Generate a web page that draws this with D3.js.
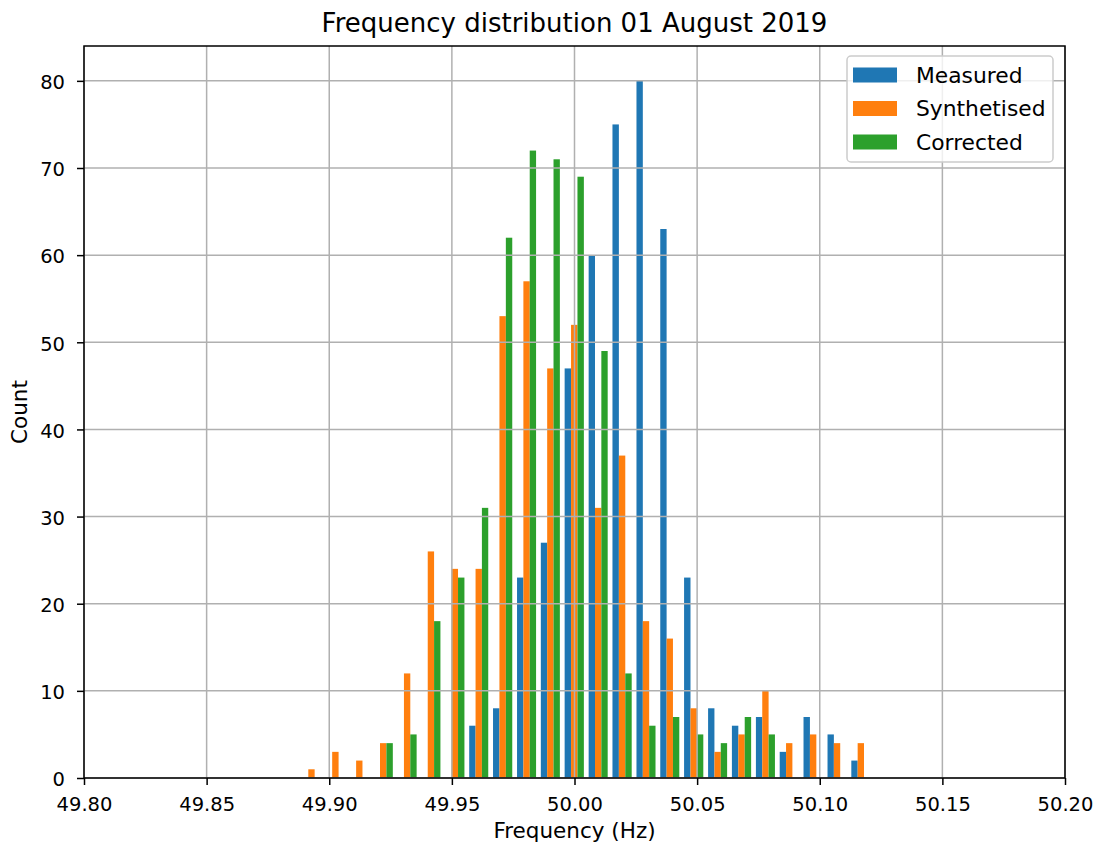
<!DOCTYPE html>
<html>
<head>
<meta charset="utf-8">
<script src="https://cdn.jsdelivr.net/npm/d3@7"></script>
<style>
  body { margin: 0; background: #fff; }
  text { font-family: "DejaVu Sans", sans-serif; fill: #000; }
</style>
</head>
<body>
<script>
// histogram bin edges (Hz)
var binEdges = [49.8879, 49.8976, 49.9074, 49.9171, 49.9269, 49.9366, 49.9463, 49.9561,
    49.9658, 49.9756, 49.9853, 49.9950, 50.0048, 50.0145, 50.0243, 50.0340, 50.0437,
    50.0535, 50.0632, 50.0730, 50.0827, 50.0924, 50.1022, 50.1119, 50.1216];

// counts per bin
var measured    = [0, 0, 0, 0, 0, 0, 0, 6, 8, 23, 27, 47, 60, 75, 80, 63, 23, 8, 6, 7, 3, 7, 5, 2];
var synthetised = [1, 3, 2, 4, 12, 26, 24, 24, 53, 57, 47, 52, 31, 37, 18, 16, 8, 3, 5, 10, 4, 5, 4, 4];
var corrected   = [0, 0, 0, 4, 5, 18, 23, 31, 62, 72, 71, 69, 49, 12, 6, 7, 5, 4, 7, 5, 0, 0, 0, 0];

var seriesNames = ["Measured", "Synthetised", "Corrected"];
var colors = ["#1f77b4", "#ff7f0e", "#2ca02c"];

var xTicks = [49.80, 49.85, 49.90, 49.95, 50.00, 50.05, 50.10, 50.15, 50.20];
var yTicks = [0, 10, 20, 30, 40, 50, 60, 70, 80];

var W = 1102, H = 848;
var margin = {top: 46, right: 37, bottom: 70, left: 84};
var iw = W - margin.left - margin.right,
    ih = H - margin.top - margin.bottom;

var svg = d3.select("body").append("svg")
    .attr("width", W)
    .attr("height", H);

var g = svg.append("g")
    .attr("transform", "translate(" + margin.left + "," + margin.top + ")");

var x = d3.scaleLinear().domain([49.8, 50.2]).range([0, iw]);
var y = d3.scaleLinear().domain([0, 84]).range([ih, 0]);

// bars, matplotlib style: 3 datasets side by side, rwidth 0.8
var allSeries = [measured, synthetised, corrected];
allSeries.forEach(function(vals, j) {
    g.selectAll(".bar" + j)
        .data(vals)
        .enter()
        .append("rect")
        .attr("class", "bar" + j)
        .attr("x", function(d, i) {
            var w = binEdges[i + 1] - binEdges[i];
            return x(binEdges[i] + 0.1 * w + j * 0.8 * w / 3);
        })
        .attr("width", function(d, i) {
            var w = binEdges[i + 1] - binEdges[i];
            return x(binEdges[i] + 0.8 * w / 3) - x(binEdges[i]);
        })
        .attr("y", function(d) { return y(d); })
        .attr("height", function(d) { return ih - y(d); })
        .style("fill", colors[j]);
});

// grid lines (drawn above the bars like matplotlib)
g.selectAll(".vgrid")
    .data(xTicks)
    .enter()
    .append("line")
    .attr("x1", function(d) { return x(d); })
    .attr("x2", function(d) { return x(d); })
    .attr("y1", 0)
    .attr("y2", ih)
    .style("stroke", "#b0b0b0")
    .style("stroke-width", 1.5);

g.selectAll(".hgrid")
    .data(yTicks)
    .enter()
    .append("line")
    .attr("x1", 0)
    .attr("x2", iw)
    .attr("y1", function(d) { return y(d); })
    .attr("y2", function(d) { return y(d); })
    .style("stroke", "#b0b0b0")
    .style("stroke-width", 1.5);

// axes
var xAxis = g.append("g")
    .attr("transform", "translate(0," + ih + ")")
    .call(d3.axisBottom(x).tickValues(xTicks).tickFormat(d3.format(".2f"))
        .tickSize(7).tickSizeOuter(0).tickPadding(12));
var yAxis = g.append("g")
    .call(d3.axisLeft(y).tickValues(yTicks).tickSize(7).tickSizeOuter(0).tickPadding(12));

[xAxis, yAxis].forEach(function(a) {
    a.select(".domain").remove();
    a.selectAll("line").style("stroke", "#000").style("stroke-width", 1.5);
    a.selectAll("text")
        .style("font-family", "DejaVu Sans, sans-serif")
        .style("font-size", "19.5px")
        .style("fill", "#000");
});
yAxis.selectAll("text").attr("dy", "0.4em");

// frame
g.append("rect")
    .attr("x", 0).attr("y", 0)
    .attr("width", iw).attr("height", ih)
    .style("fill", "none")
    .style("stroke", "#000")
    .style("stroke-width", 1.5);

// title and labels
svg.append("text")
    .attr("x", margin.left + iw / 2)
    .attr("y", 32)
    .attr("text-anchor", "middle")
    .style("font-size", "26px")
    .text("Frequency distribution 01 August 2019");

svg.append("text")
    .attr("x", margin.left + iw / 2)
    .attr("y", 838)
    .attr("text-anchor", "middle")
    .style("font-size", "21.5px")
    .text("Frequency (Hz)");

svg.append("text")
    .attr("transform", "translate(27," + (margin.top + ih / 2) + ") rotate(-90)")
    .attr("text-anchor", "middle")
    .style("font-size", "21.5px")
    .text("Count");

// legend
var legend = svg.append("g").attr("transform", "translate(847,56)");
legend.append("rect")
    .attr("width", 206).attr("height", 106)
    .attr("rx", 4)
    .style("fill", "rgba(255,255,255,0.8)")
    .style("stroke", "#cccccc")
    .style("stroke-width", 1.5);

var items = legend.selectAll(".item")
    .data(seriesNames)
    .enter()
    .append("g")
    .attr("transform", function(d, i) { return "translate(0," + (i * 33.5) + ")"; });
items.append("rect")
    .attr("x", 6).attr("y", 11.5)
    .attr("width", 44).attr("height", 15)
    .style("fill", function(d, i) { return colors[i]; });
items.append("text")
    .attr("x", 69).attr("y", 26.5)
    .style("font-size", "21.8px")
    .text(function(d) { return d; });
</script>
</body>
</html>
